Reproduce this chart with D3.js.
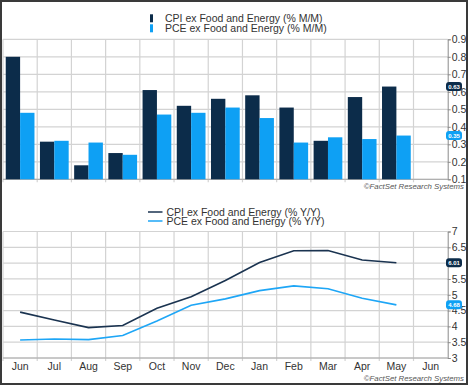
<!DOCTYPE html>
<meta charset="utf-8">
<style>
  body { margin: 0; background: #fff; }
  text { font-family: "Liberation Sans", Arial, sans-serif; }
</style>
<script src="https://d3js.org/d3.v7.min.js"></script>
<svg id="chart" width="468" height="385"></svg>
<script>
  // Data
  var months = ["Jun", "Jul", "Aug", "Sep", "Oct", "Nov", "Dec", "Jan", "Feb", "Mar", "Apr", "May", "Jun"];
  var cpiMoM = [0.80, 0.315, 0.18, 0.25, 0.61, 0.52, 0.56, 0.58, 0.51, 0.32, 0.57, 0.63];
  var pceMoM = [0.48, 0.32, 0.31, 0.24, 0.47, 0.48, 0.51, 0.45, 0.31, 0.34, 0.33, 0.35];
  var cpiYoY = [4.45, 4.20, 3.96, 4.03, 4.57, 4.94, 5.45, 6.02, 6.39, 6.40, 6.10, 6.01];
  var pceYoY = [3.57, 3.60, 3.58, 3.71, 4.17, 4.67, 4.87, 5.13, 5.28, 5.19, 4.89, 4.68];
  var momTicks = [0.1, 0.2, 0.3, 0.4, 0.5, 0.6, 0.7, 0.8, 0.9];
  var yoyTicks = [3, 3.5, 4, 4.5, 5, 5.5, 6, 6.5, 7];
  var momLegend = ["CPI ex Food and Energy (% M/M)", "PCE ex Food and Energy (% M/M)"];
  var yoyLegend = ["CPI ex Food and Energy (% Y/Y)", "PCE ex Food and Energy (% Y/Y)"];

  var cpiColor = "#0c2c4a", pceColor = "#0ea0f4";
  var cpiLine = "#1a3350", pceLine = "#1ea6f6";

  var svg = d3.select("#chart");
  var left = 3, right = 447.7;
  var keys = d3.range(months.length);

  var x = d3.scaleBand().domain(keys).range([left, right]).paddingInner(0.16).paddingOuter(0.08);
  var step = x.step();
  var xs = d3.scaleBand().domain([0, 1]).range([0, x.bandwidth()]);
  var xp = d3.scalePoint().domain(keys).range([left, right]).padding(0.5);

  function frame(y, top, bottom, ticks, fmt) {
    var g = svg.append("g");
    // horizontal grid
    g.selectAll(".hg").data(ticks).enter().append("line")
      .attr("x1", left).attr("x2", right)
      .attr("y1", d => y(d)).attr("y2", d => y(d))
      .attr("stroke", "#d3d3d3").attr("stroke-width", 1.2);
    // vertical grid at month boundaries
    g.selectAll(".vg").data(d3.range(months.length)).enter().append("line")
      .attr("x1", i => left + i * step).attr("x2", i => left + i * step)
      .attr("y1", top).attr("y2", bottom + 3)
      .attr("stroke", "#d3d3d3").attr("stroke-width", 1.2);
    // baseline
    g.append("line").attr("x1", left).attr("x2", right)
      .attr("y1", bottom).attr("y2", bottom).attr("stroke", "#a8a8a8");
    // right axis
    var ax = svg.append("g").attr("transform", "translate(" + right + ",0)")
      .call(d3.axisRight(y).tickValues(ticks).tickSize(3).tickPadding(1).tickFormat(fmt));
    ax.select(".domain").attr("stroke", "#8a8a8a");
    ax.selectAll(".tick line").attr("stroke", "#8a8a8a");
    ax.selectAll("text").attr("font-size", 10.5).attr("fill", "#333")
      .style("font-family", "'Liberation Sans', Arial, sans-serif");
    return ax;
  }

  function badge(yv, text, color) {
    var g = svg.append("g").attr("transform", "translate(446," + yv + ")");
    g.append("rect").attr("x", 0).attr("y", -4.5).attr("width", 16).attr("height", 9)
      .attr("rx", 3).attr("fill", color);
    g.append("text").attr("x", 8).attr("y", 2.2).attr("text-anchor", "middle")
      .attr("font-size", 6).attr("font-weight", "bold").attr("fill", "#fff").text(text);
  }

  function credit(yv) {
    svg.append("text").attr("x", 464).attr("y", yv).attr("text-anchor", "end")
      .attr("font-size", 7.8).attr("font-style", "italic").attr("fill", "#555")
      .text("\u00a9FactSet Research Systems");
  }

  // ---- Top panel: M/M bars
  var y1 = d3.scaleLinear().domain([0.1, 0.9]).range([179.3, 39.3]);
  frame(y1, 39.3, 179.3, momTicks, d3.format(".1f"));

  var bars = svg.append("g");
  [cpiMoM, pceMoM].forEach(function (series, s) {
    bars.selectAll(".b" + s).data(series).enter().append("rect")
      .attr("x", (d, i) => x(i) + xs(s))
      .attr("width", xs.bandwidth())
      .attr("y", d => y1(d))
      .attr("height", d => y1(0.1) - y1(d))
      .attr("fill", s ? pceColor : cpiColor);
  });

  momLegend.forEach(function (t, i) {
    svg.append("rect").attr("x", 150).attr("y", 14.3 + i * 10).attr("width", 3).attr("height", 8)
      .attr("fill", i ? pceColor : cpiColor);
    svg.append("text").attr("x", 165).attr("y", 22 + i * 10).attr("font-size", 10.5)
      .attr("fill", "#333").text(t);
  });

  badge(y1(cpiMoM[11]), "0.63", cpiColor);
  badge(y1(pceMoM[11]), "0.35", pceColor);
  credit(188.5);

  // ---- Bottom panel: Y/Y lines
  var y2 = d3.scaleLinear().domain([3, 7]).range([358, 231.5]);
  frame(y2, 231.5, 358, yoyTicks, d3.format("~g"));

  var line = d3.line().x((d, i) => xp(i)).y(d => y2(d));
  svg.append("path").datum(pceYoY).attr("d", line).attr("fill", "none")
    .attr("stroke", pceLine).attr("stroke-width", 1.6);
  svg.append("path").datum(cpiYoY).attr("d", line).attr("fill", "none")
    .attr("stroke", cpiLine).attr("stroke-width", 1.6);

  // month labels
  svg.append("g").selectAll("text").data(months).enter().append("text")
    .attr("x", (d, i) => xp(i)).attr("y", 370).attr("text-anchor", "middle")
    .attr("font-size", 10.5).attr("fill", "#333").text(d => d);

  yoyLegend.forEach(function (t, i) {
    svg.append("line").attr("x1", 148).attr("x2", 162.5)
      .attr("y1", 212 + i * 9).attr("y2", 212 + i * 9)
      .attr("stroke", i ? pceLine : cpiLine).attr("stroke-width", 1.5);
    svg.append("text").attr("x", 166.5).attr("y", 215.8 + i * 9).attr("font-size", 10.5)
      .attr("fill", "#333").text(t);
  });

  badge(y2(cpiYoY[11]), "6.01", cpiColor);
  badge(y2(pceYoY[11]), "4.68", pceColor);
  credit(381);

  // outer frame
  svg.append("rect").attr("x", 1).attr("y", 1).attr("width", 466).attr("height", 383)
    .attr("fill", "none").attr("stroke", "#3a3a3a").attr("stroke-width", 2);
</script>
